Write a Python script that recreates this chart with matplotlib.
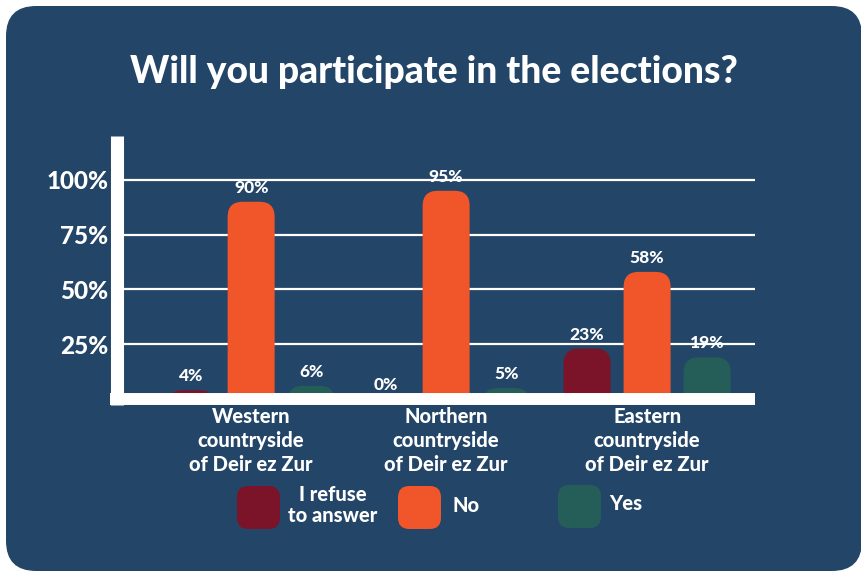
import numpy as np
import matplotlib.pyplot as plt
from matplotlib.patches import FancyBboxPatch

# survey results, percent of respondents
regions = ["Western\ncountryside\nof Deir ez Zur",
           "Northern\ncountryside\nof Deir ez Zur",
           "Eastern\ncountryside\nof Deir ez Zur"]
answers = ["I refuse\nto answer", "No", "Yes"]
refuse = [4, 0, 23]
no = [90, 95, 58]
yes = [6, 5, 19]
yticks = [25, 50, 75, 100]
ytick_labels = ["25%", "50%", "75%", "100%"]

BG = "#234567"
colors = ["#7b1428", "#f0562a", "#255e58"]
plt.rcParams['font.family'] = ['Lato', 'DejaVu Sans']

W, H = 861, 572
fig = plt.figure(figsize=(W / 100, H / 100), dpi=100)
fig.patch.set_facecolor("white")


def fx(x):
    return x / W


def fy(y):
    return 1 - y / H


# rounded dark panel behind everything
panel = FancyBboxPatch((fx(6), fy(571)), fx(856), (565) / H,
                       boxstyle="round,pad=0,rounding_size=0.035",
                       transform=fig.transFigure, facecolor=BG,
                       edgecolor="none", mutation_aspect=W / H, zorder=-5)
fig.add_artist(panel)

fig.text(fx(434), fy(72), "Will you participate in the elections?",
         ha="center", va="center", color="white", fontsize=26.8,
         fontweight="black")

# axes placed so that 0% sits at y=399px and 100% at y=180px
ax = fig.add_axes([fx(116.5), fy(399), (755 - 116.5) / W, (399 - 136) / H])
ax.set_facecolor("none")
ax.set_xlim(-0.68, 2.545)
ax.set_ylim(0, 120)

ax.set_yticks(yticks)
ax.set_yticklabels(ytick_labels)
ax.tick_params(axis="y", length=0, pad=6, labelsize=17.5, labelcolor="white")
for lab in ax.get_yticklabels():
    lab.set_fontweight("black")
ax.set_xticks([])
for s in ax.spines.values():
    s.set_visible(False)
for t in yticks:
    ax.axhline(t, color="white", lw=1.6, zorder=1)

fig.canvas.draw()
# data units per pixel in x and y, used to round the bar tops evenly
x0, y0 = ax.transData.inverted().transform((0, 0))
x1, y1 = ax.transData.inverted().transform((1, 1))
dx, dy = x1 - x0, y1 - y0
aspect = dy / dx

width = 47 * dx
offset = 60 * dx
radius = 15 * dx
centers = np.array([0.0, 0.985, 2.0])

for i, (vals, col) in enumerate(zip([refuse, no, yes], colors)):
    for c, v in zip(centers, vals):
        xc = c + (i - 1) * offset
        if v > 0:
            bar = FancyBboxPatch((xc - width / 2, -20), width, v + 20,
                                 boxstyle=f"round,pad=0,rounding_size={radius}",
                                 mutation_aspect=aspect, facecolor=col,
                                 edgecolor="none", zorder=2)
            ax.add_patch(bar)
        ax.text(xc, v + 6 * dy, f"{v}%", ha="center", va="bottom",
                color="white", fontsize=12.5, fontweight="black", zorder=4)

# thick white axes lines
ax.axhline(0, xmin=-6.5 / 638.5, xmax=1, color="white", lw=8.6,
           solid_capstyle="butt", clip_on=False, zorder=3)
ax.axvline(-0.68, ymin=-6 / 263, ymax=1, color="white", lw=9.4,
           solid_capstyle="butt", clip_on=False, zorder=3)

for c, name in zip(centers, regions):
    ax.text(c, -3.6, name, ha="center", va="top", color="white",
            fontsize=14.5, fontweight="black", linespacing=1.32,
            clip_on=False)

# legend drawn by hand: rounded swatches with labels
legend_x = [237, 398, 558]
legend_y = [486, 486, 485]
label_x = [333, 453, 609]
for col, name, lx, ly, tx in zip(colors, answers, legend_x, legend_y, label_x):
    sw = FancyBboxPatch((fx(lx), fy(ly + 43)), 43 / W, 43 / H,
                        boxstyle="round,pad=0,rounding_size=0.013",
                        mutation_aspect=W / H, transform=fig.transFigure,
                        facecolor=col, edgecolor="none")
    fig.add_artist(sw)
    ha = "center" if "\n" in name else "left"
    fig.text(fx(tx), fy(ly + 19), name, ha=ha, va="center", color="white",
             fontsize=14.5, fontweight="black", linespacing=1.15)

fig.savefig("out.png", dpi=100, facecolor=fig.get_facecolor())
